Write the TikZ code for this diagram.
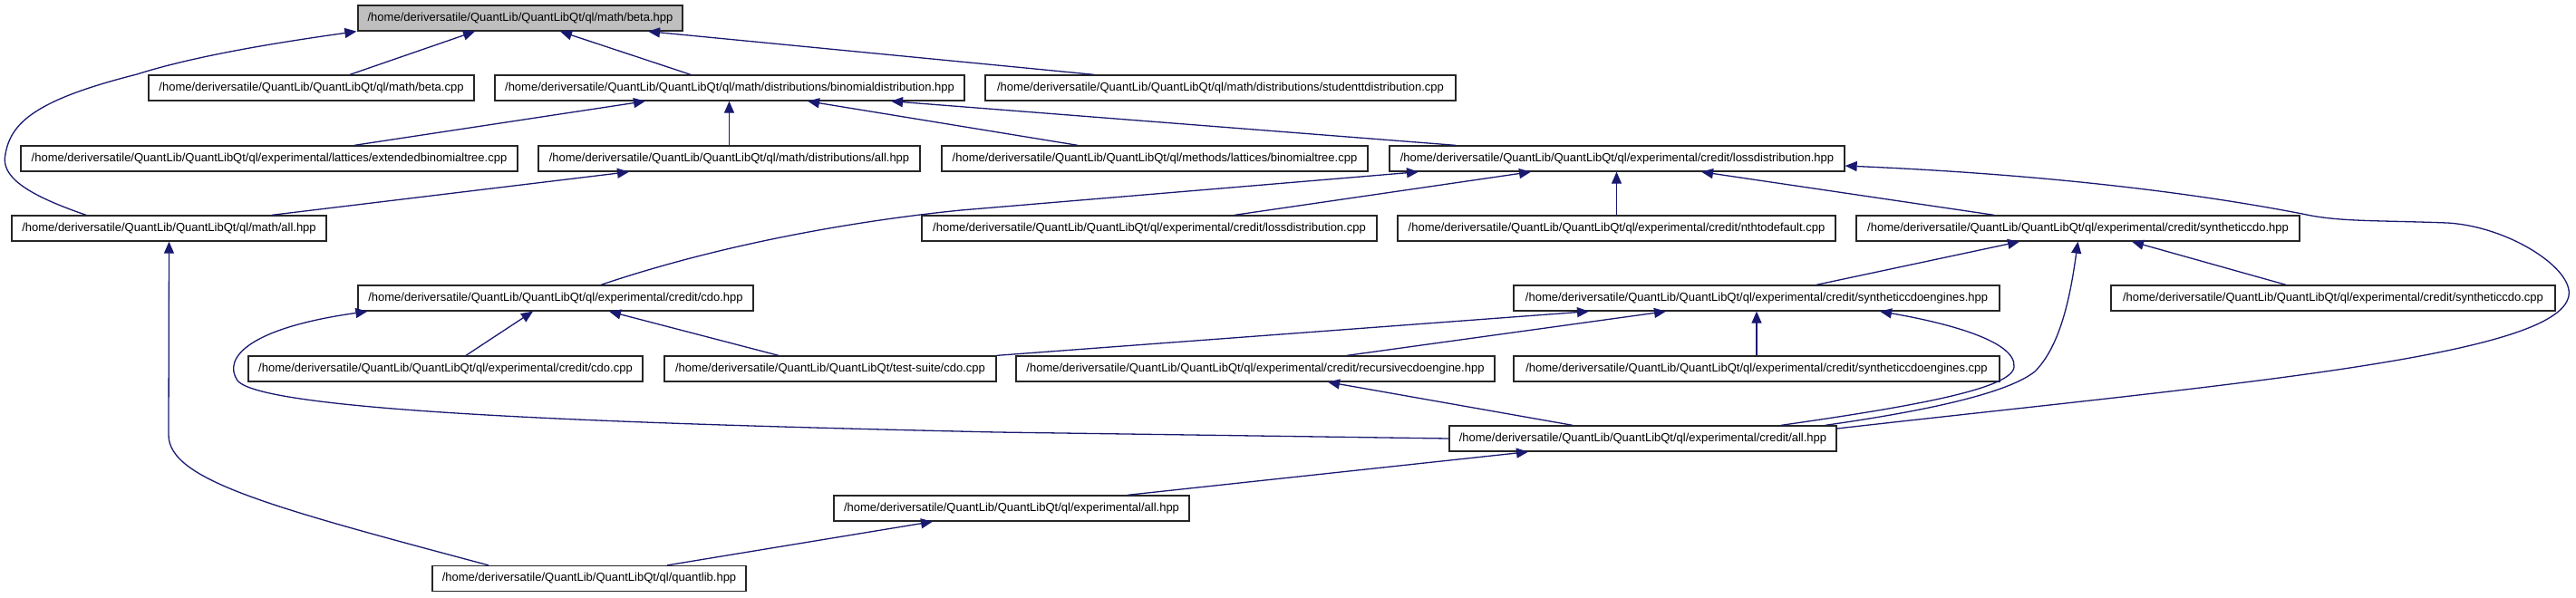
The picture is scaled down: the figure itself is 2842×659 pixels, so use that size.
\documentclass[tikz,border=0pt]{standalone}
\usepackage{fontspec}
\setmainfont{Liberation Sans}
\usetikzlibrary{arrows.meta}
\definecolor{edgeblue}{HTML}{191970}
\definecolor{boxgray}{HTML}{BFBFBF}
\newcommand{\QLroot}{/home/deriversatile/QuantLib/QuantLibQt}
\tikzset{
  file/.style={draw=black!85, line width=1.3pt, fill=white, minimum height=28pt,
    inner sep=0pt, anchor=center, font=\fontsize{13}{15}\selectfont},
  edge/.style={draw=edgeblue, line width=1.3pt, -{Triangle[length=13pt,width=11pt]}},
}
\begin{document}
\begin{tikzpicture}[x=1pt,y=-1pt]
\useasboundingbox (0,0) rectangle (2842,659);
% row 0
\node[file, fill=boxgray, minimum width=358pt] (beta) at (574,20) {\QLroot/ql/math/beta.hpp};
% row 1
\node[file, minimum width=359pt] (betacpp) at (343.5,97) {\QLroot/ql/math/beta.cpp};
\node[file, minimum width=518pt] (binom) at (805,97) {\QLroot/ql/math/distributions/binomialdistribution.hpp};
\node[file, minimum width=519pt] (student) at (1346.5,97) {\QLroot/ql/math/distributions/studenttdistribution.cpp};
% row 2
\node[file, minimum width=548pt] (extbin) at (297,175) {\QLroot/ql/experimental/lattices/extendedbinomialtree.cpp};
\node[file, minimum width=421pt] (distall) at (804.5,175) {\QLroot/ql/math/distributions/all.hpp};
\node[file, minimum width=470pt] (bintree) at (1274,175) {\QLroot/ql/methods/lattices/binomialtree.cpp};
\node[file, minimum width=502pt] (lossh) at (1784,175) {\QLroot/ql/experimental/credit/lossdistribution.hpp};
% row 3
\node[file, minimum width=347pt] (mathall) at (186.5,252) {\QLroot/ql/math/all.hpp};
\node[file, minimum width=502pt] (losscpp) at (1268,252) {\QLroot/ql/experimental/credit/lossdistribution.cpp};
\node[file, minimum width=483pt] (nth) at (1783.5,252) {\QLroot/ql/experimental/credit/nthtodefault.cpp};
\node[file, minimum width=489pt] (synh) at (2292.5,252) {\QLroot/ql/experimental/credit/syntheticcdo.hpp};
% row 4
\node[file, minimum width=436pt] (cdoh) at (613,329) {\QLroot/ql/experimental/credit/cdo.hpp};
\node[file, minimum width=536pt] (synengh) at (1938,329) {\QLroot/ql/experimental/credit/syntheticcdoengines.hpp};
\node[file, minimum width=490pt] (syncpp) at (2574,329) {\QLroot/ql/experimental/credit/syntheticcdo.cpp};
% row 5
\node[file, minimum width=435pt] (cdocpp) at (491.5,407) {\QLroot/ql/experimental/credit/cdo.cpp};
\node[file, minimum width=366pt] (tscdo) at (916,407) {\QLroot/test-suite/cdo.cpp};
\node[file, minimum width=528pt] (rec) at (1385,407) {\QLroot/ql/experimental/credit/recursivecdoengine.hpp};
\node[file, minimum width=536pt] (synengcpp) at (1938,407) {\QLroot/ql/experimental/credit/syntheticcdoengines.cpp};
% row 6
\node[file, minimum width=427pt] (credall) at (1812.5,484) {\QLroot/ql/experimental/credit/all.hpp};
% row 7
\node[file, minimum width=392pt] (expall) at (1116,561) {\QLroot/ql/experimental/all.hpp};
% row 8
\node[file, minimum width=346pt] (quant) at (650,638.5) {\QLroot/ql/quantlib.hpp};

% edges into beta.hpp
\draw[edge] ([xshift=-91.5pt]mathall.north) .. controls (30,215) and (0,195) .. (6,170)
  .. controls (12,135) and (40,110) .. (151,82) .. controls (220,60) and (320,45) .. ([xshift=-1pt]beta.south west);
\draw[edge] ([xshift=42.5pt]betacpp.north) -- ([xshift=-50pt]beta.south);
\draw[edge] ([xshift=-43pt]binom.north) -- ([xshift=44pt]beta.south);
\draw[edge] ([xshift=-139.5pt]student.north) -- ([xshift=141pt]beta.south);
% edges into binomialdistribution.hpp
\draw[edge] ([xshift=94pt]extbin.north) -- ([xshift=-93pt]binom.south);
\draw[edge] (distall.north) -- (distall.north |- binom.south);
\draw[edge] ([xshift=-85pt]bintree.north) -- ([xshift=86pt]binom.south);
\draw[edge] ([xshift=-178pt]lossh.north) -- ([xshift=178pt]binom.south);
% into distributions/all.hpp
\draw[edge] ([xshift=113.5pt]mathall.north) -- ([xshift=-110.5pt]distall.south);
% into lossdistribution.hpp
\draw[edge] ([xshift=50pt]cdoh.north) .. controls (830,258) and (1000,238) .. (1060,232) -- ([xshift=-219pt]lossh.south);
\draw[edge] ([xshift=94pt]losscpp.north) -- ([xshift=-95pt]lossh.south);
\draw[edge] (nth.north) -- (nth.north |- lossh.south);
\draw[edge] ([xshift=-92.5pt]synh.north) -- ([xshift=93pt]lossh.south);
\draw[edge] ([yshift=11pt]credall.east) .. controls (2450,425) and (2810,395) .. (2833,330)
  .. controls (2845,300) and (2770,250) .. (2700,246) .. controls (2620,243) and (2580,245) .. (2540,236)
  .. controls (2380,205) and (2200,190) .. ([yshift=-8pt]lossh.east);
% into cdo.hpp
\draw[edge] ([xshift=22.5pt]cdocpp.north) -- ([xshift=-25pt]cdoh.south);
\draw[edge] ([xshift=-57pt]tscdo.north) -- ([xshift=59pt]cdoh.south);
\draw[edge] (credall.west) -- (1100,477) .. controls (700,468) and (290,455) .. (262,420)
  .. controls (245,395) and (275,362) .. ([xshift=11pt]cdoh.south west);
% into syntheticcdo.hpp
\draw[edge] ([xshift=66pt]synengh.north) -- ([xshift=-64.5pt]synh.south);
\draw[edge] ([xshift=-13pt]credall.north east) .. controls (2150,450) and (2220,430) .. (2245,410)
  .. controls (2275,380) and (2285,320) .. (synh.south);
\draw[edge] ([xshift=-52pt]syncpp.north) -- ([xshift=59.5pt]synh.south);
% into syntheticcdoengines.hpp
\draw[edge] (tscdo.north east) -- ([xshift=-185pt]synengh.south);
\draw[edge] ([xshift=101pt]rec.north) -- ([xshift=-100pt]synengh.south);
\draw[edge] (synengcpp.north) -- (synengh.south);
\draw[edge] ([xshift=152.5pt]credall.north) .. controls (2100,450) and (2220,430) .. (2222,405)
  .. controls (2225,375) and (2140,355) .. ([xshift=136pt]synengh.south);
% into recursivecdoengine.hpp
\draw[edge] ([xshift=-77.5pt]credall.north) -- ([xshift=80pt]rec.south);
% into credit/all.hpp
\draw[edge] ([xshift=128pt]expall.north) -- ([xshift=-126.5pt]credall.south);
% into experimental/all.hpp
\draw[edge] ([xshift=86pt]quant.north) -- ([xshift=-87pt]expall.south);
% into math/all.hpp
\draw[edge] ([xshift=-111pt]quant.north) .. controls (300,560) and (186,530) .. (186,480) -- (mathall.south);
\end{tikzpicture}
\end{document}
